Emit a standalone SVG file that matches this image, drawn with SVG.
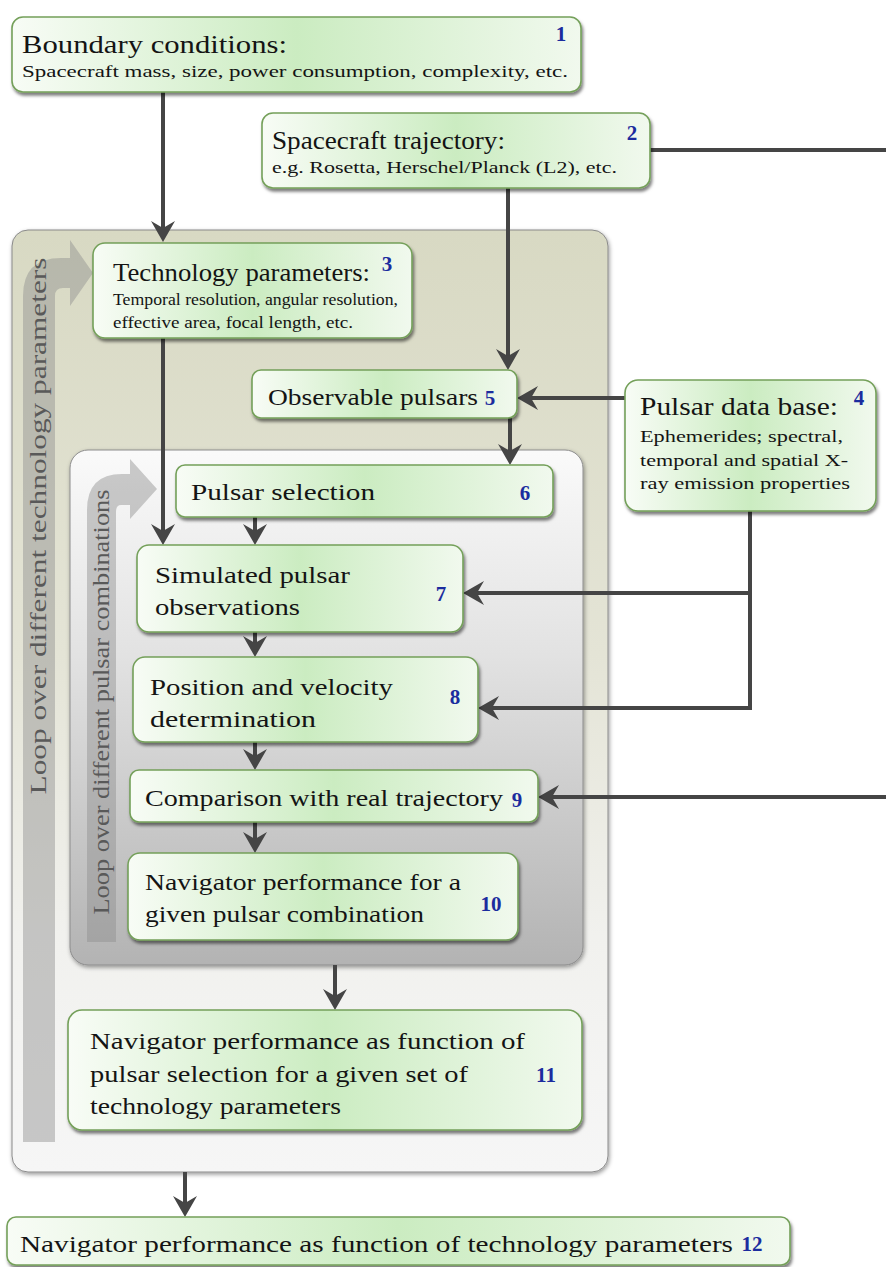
<svg xmlns="http://www.w3.org/2000/svg" width="886" height="1267" viewBox="0 0 886 1267">
<defs>
  <linearGradient id="gBox" x1="0" y1="0" x2="1" y2="0">
    <stop offset="0" stop-color="#f8fcf6"/>
    <stop offset="0.5" stop-color="#cbecc1"/>
    <stop offset="1" stop-color="#f1f9ee"/>
  </linearGradient>
  <linearGradient id="gOuter" x1="0" y1="0" x2="0" y2="1">
    <stop offset="0" stop-color="#d8d9c3"/>
    <stop offset="0.45" stop-color="#e4e4d6"/>
    <stop offset="0.75" stop-color="#f1f1ee"/>
    <stop offset="1" stop-color="#f6f6f6"/>
  </linearGradient>
  <linearGradient id="gInner" x1="0" y1="0" x2="0" y2="1">
    <stop offset="0" stop-color="#fafafa"/>
    <stop offset="0.4" stop-color="#e2e2e2"/>
    <stop offset="1" stop-color="#b3b3b3"/>
  </linearGradient>
  <filter id="shadow" x="-10%" y="-10%" width="125%" height="140%">
    <feDropShadow dx="1.5" dy="3" stdDeviation="1.8" flood-color="#000" flood-opacity="0.5"/>
  </filter>
  <filter id="shadowC" x="-5%" y="-5%" width="112%" height="112%">
    <feDropShadow dx="1" dy="2" stdDeviation="2" flood-color="#000" flood-opacity="0.4"/>
  </filter>
  <marker id="arr" markerUnits="userSpaceOnUse" viewBox="-16 -13 24 26" refX="0" refY="0" markerWidth="24" markerHeight="26" orient="auto">
    <path d="M7,0 L-14,-12 L-7,0 L-14,12 Z" fill="#454545"/>
  </marker>
</defs>
<style>
  .box { fill: url(#gBox); stroke: #74a05a; stroke-width: 1.6; filter: url(#shadow); }
  .t { font-family: "Liberation Serif", "DejaVu Serif", serif; fill: #141414; }
  .ti { font-size: 25px; }
  .tb { font-size: 24px; }
  .ts { font-size: 16.5px; }
  .num { font-family: "Liberation Serif", serif; font-weight: bold; font-size: 21px; fill: #1b2c9e; text-anchor: middle; }
  .loop { fill: #8f8f8f; fill-opacity: 0.45; }
  .lt { font-family: "Liberation Serif", "DejaVu Serif", serif; fill: #595959; text-anchor: middle; }
  .conn { fill: none; stroke: #454545; stroke-width: 4; }
</style>

<g id="outer-container">
  <rect x="12" y="230" width="596" height="942" rx="16" fill="url(#gOuter)" stroke="#8a8a8a" stroke-width="1" filter="url(#shadowC)"/>
  <path class="loop" d="M23,1142 L23,296 Q23,258 61,258 L70,258 L70,240 L93,273 L70,306 L70,288 L63,288 Q55,288 55,296 L55,1142 Z"/>
  <text class="lt" font-size="24" transform="translate(46,526) rotate(-90)" textLength="537" lengthAdjust="spacingAndGlyphs">Loop over different technology parameters</text>
</g>

<g id="inner-container">
  <rect x="70" y="450" width="513" height="515" rx="18" fill="url(#gInner)" stroke="#8c8c8c" stroke-width="1" filter="url(#shadowC)"/>
  <path class="loop" d="M87,942 L87,510 Q87,474 122,474 L130,474 L130,459 L157,489 L130,519 L130,505 L121,505 Q116,505 116,512 L116,942 Z"/>
  <text class="lt" font-size="23" transform="translate(109,702) rotate(-90)" textLength="425" lengthAdjust="spacingAndGlyphs">Loop over different pulsar combinations</text>
</g>

<g id="connectors">
  <path class="conn" d="M163,92 V235" marker-end="url(#arr)"/>
  <path class="conn" d="M508,188 V363" marker-end="url(#arr)"/>
  <path class="conn" d="M650,150 H890"/>
  <path class="conn" d="M163,338 V538" marker-end="url(#arr)"/>
  <path class="conn" d="M625,398 H524" marker-end="url(#arr)"/>
  <path class="conn" d="M510,418 V458" marker-end="url(#arr)"/>
  <path class="conn" d="M255,517 V538" marker-end="url(#arr)"/>
  <path class="conn" d="M750,510 V708 H485" marker-end="url(#arr)"/>
  <path class="conn" d="M752,593 H470" marker-end="url(#arr)"/>
  <path class="conn" d="M255,632 V650" marker-end="url(#arr)"/>
  <path class="conn" d="M255,742 V763" marker-end="url(#arr)"/>
  <path class="conn" d="M890,797 H545" marker-end="url(#arr)"/>
  <path class="conn" d="M255,822 V846" marker-end="url(#arr)"/>
  <path class="conn" d="M335,965 V1003" marker-end="url(#arr)"/>
  <path class="conn" d="M185,1172 V1210" marker-end="url(#arr)"/>
</g>

<g id="n1">
  <rect class="box" x="12" y="17" width="569" height="75" rx="11"/>
  <text class="t ti" x="22" y="53" textLength="265" lengthAdjust="spacingAndGlyphs">Boundary conditions:</text>
  <text class="t ts" x="22" y="77" textLength="546" lengthAdjust="spacingAndGlyphs">Spacecraft mass, size, power consumption, complexity, etc.</text>
  <text class="num" x="561" y="41">1</text>
</g>

<g id="n2">
  <rect class="box" x="262" y="113" width="388" height="75" rx="11"/>
  <text class="t ti" x="272" y="149" textLength="233" lengthAdjust="spacingAndGlyphs">Spacecraft trajectory:</text>
  <text class="t ts" x="272" y="173" textLength="345" lengthAdjust="spacingAndGlyphs">e.g. Rosetta, Herschel/Planck (L2), etc.</text>
  <text class="num" x="632" y="140">2</text>
</g>

<g id="n3">
  <rect class="box" x="93" y="243" width="319" height="95" rx="12"/>
  <text class="t ti" x="113" y="281" textLength="257" lengthAdjust="spacingAndGlyphs">Technology parameters:</text>
  <text class="t ts" x="113" y="305" textLength="285" lengthAdjust="spacingAndGlyphs">Temporal resolution, angular resolution,</text>
  <text class="t ts" x="113" y="328" textLength="240" lengthAdjust="spacingAndGlyphs">effective area, focal length, etc.</text>
  <text class="num" x="387" y="271">3</text>
</g>

<g id="n4">
  <rect class="box" x="625" y="380" width="251" height="131" rx="13"/>
  <text class="t ti" x="640" y="415" textLength="198" lengthAdjust="spacingAndGlyphs">Pulsar data base:</text>
  <text class="t ts" x="640" y="442" textLength="203" lengthAdjust="spacingAndGlyphs">Ephemerides; spectral,</text>
  <text class="t ts" x="640" y="466" textLength="208" lengthAdjust="spacingAndGlyphs">temporal and spatial X-</text>
  <text class="t ts" x="640" y="489" textLength="210" lengthAdjust="spacingAndGlyphs">ray emission properties</text>
  <text class="num" x="859" y="405">4</text>
</g>

<g id="n5">
  <rect class="box" x="252" y="370" width="265" height="48" rx="9"/>
  <text class="t tb" x="268" y="405" textLength="210" lengthAdjust="spacingAndGlyphs">Observable pulsars</text>
  <text class="num" x="490" y="405">5</text>
</g>

<g id="n6">
  <rect class="box" x="176" y="465" width="377" height="52" rx="9"/>
  <text class="t tb" x="191" y="500" textLength="184" lengthAdjust="spacingAndGlyphs">Pulsar selection</text>
  <text class="num" x="525" y="500">6</text>
</g>

<g id="n7">
  <rect class="box" x="137" y="545" width="326" height="87" rx="12"/>
  <text class="t tb" x="155" y="583" textLength="195" lengthAdjust="spacingAndGlyphs">Simulated pulsar</text>
  <text class="t tb" x="155" y="615" textLength="145" lengthAdjust="spacingAndGlyphs">observations</text>
  <text class="num" x="441" y="601">7</text>
</g>

<g id="n8">
  <rect class="box" x="133" y="657" width="345" height="85" rx="12"/>
  <text class="t tb" x="150" y="695" textLength="243" lengthAdjust="spacingAndGlyphs">Position and velocity</text>
  <text class="t tb" x="150" y="727" textLength="166" lengthAdjust="spacingAndGlyphs">determination</text>
  <text class="num" x="455" y="704">8</text>
</g>

<g id="n9">
  <rect class="box" x="130" y="770" width="408" height="52" rx="9"/>
  <text class="t tb" x="145" y="806" textLength="358" lengthAdjust="spacingAndGlyphs">Comparison with real trajectory</text>
  <text class="num" x="517" y="807">9</text>
</g>

<g id="n10">
  <rect class="box" x="128" y="853" width="390" height="87" rx="12"/>
  <text class="t tb" x="145" y="890" textLength="316" lengthAdjust="spacingAndGlyphs">Navigator performance for a</text>
  <text class="t tb" x="145" y="922" textLength="279" lengthAdjust="spacingAndGlyphs">given pulsar combination</text>
  <text class="num" x="491" y="911">10</text>
</g>

<g id="n11">
  <rect class="box" x="68" y="1010" width="514" height="120" rx="14"/>
  <text class="t tb" x="90" y="1049" textLength="435" lengthAdjust="spacingAndGlyphs">Navigator performance as function of</text>
  <text class="t tb" x="90" y="1082" textLength="378" lengthAdjust="spacingAndGlyphs">pulsar selection for a given set of</text>
  <text class="t tb" x="90" y="1114" textLength="251" lengthAdjust="spacingAndGlyphs">technology parameters</text>
  <text class="num" x="546" y="1082">11</text>
</g>

<g id="n12">
  <rect class="box" x="7" y="1217" width="783" height="48" rx="9"/>
  <text class="t tb" x="20" y="1252" textLength="713" lengthAdjust="spacingAndGlyphs">Navigator performance as function of technology parameters</text>
  <text class="num" x="752" y="1251">12</text>
</g>
</svg>
